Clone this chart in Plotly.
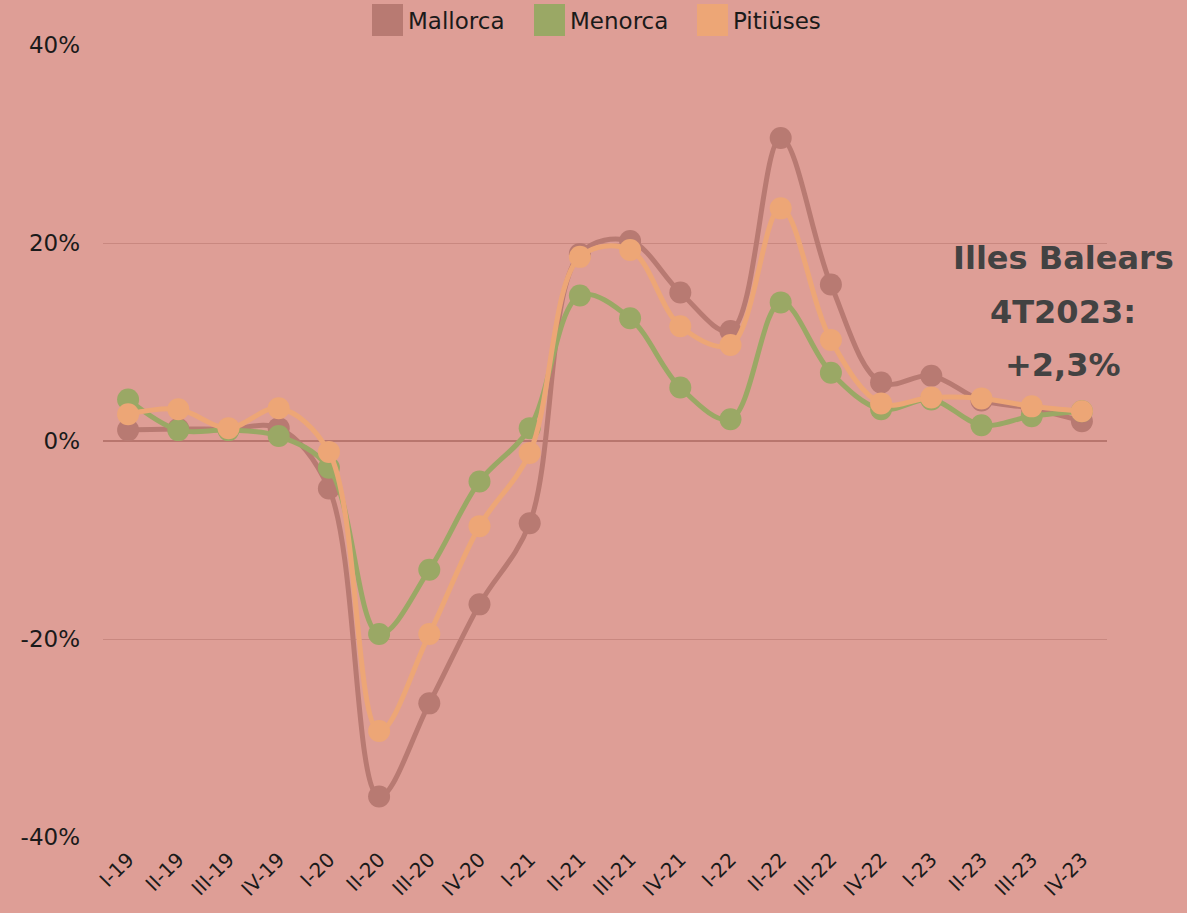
import plotly.graph_objects as go

quarters = ["I-19", "II-19", "III-19", "IV-19", "I-20", "II-20", "III-20", "IV-20",
            "I-21", "II-21", "III-21", "IV-21", "I-22", "II-22", "III-22", "IV-22",
            "I-23", "II-23", "III-23", "IV-23"]

mallorca = [1.1, 1.2, 1.2, 1.3, -4.8, -35.9, -26.5, -16.5, -8.3, 18.9, 20.2, 15.0,
            11.1, 30.6, 15.8, 5.9, 6.6, 4.1, 3.3, 2.0]
menorca = [4.2, 1.1, 1.1, 0.5, -2.7, -19.5, -13.0, -4.1, 1.3, 14.7, 12.4, 5.4,
           2.2, 14.0, 6.9, 3.2, 4.2, 1.6, 2.5, 3.0]
pitiuses = [2.7, 3.2, 1.3, 3.3, -1.1, -29.3, -19.5, -8.6, -1.2, 18.6, 19.3, 11.6,
            9.7, 23.5, 10.2, 3.8, 4.4, 4.3, 3.5, 3.0]

series_names = ["Mallorca", "Menorca", "Pitiüses"]
series_values = [mallorca, menorca, pitiuses]
series_colors = ["#B87A72", "#9AA865", "#EDA676"]

y_tickvals = [-40, -20, 0, 20, 40]
y_ticktext = ["-40%", "-20%", "0%", "20%", "40%"]

annotation_lines = ["Illes Balears", "4T2023:", "+2,3%"]

BG = "#DE9E96"
FONT = "DejaVu Sans"

# plot-area pixel geometry (for placing paper-referenced decorations)
PL, PR, PT, PB = 103, 1107, 45, 837
def px_x(px):
    return (px - PL) / (PR - PL)
def px_y(py):
    return (PB - py) / (PB - PT)

fig = go.Figure()
for name, vals, col in zip(series_names, series_values, series_colors):
    fig.add_trace(go.Scatter(
        x=quarters, y=vals, name=name, mode="lines+markers",
        line=dict(color=col, width=5, shape="spline", smoothing=1.0),
        marker=dict(color=col, size=22),
        showlegend=False,
    ))

# custom legend (large squares)
leg_x0 = [372, 534, 697]
for name, col, px in zip(series_names, series_colors, leg_x0):
    fig.add_shape(type="rect", xref="paper", yref="paper",
                  x0=px_x(px), x1=px_x(px + 31), y0=px_y(36), y1=px_y(4),
                  fillcolor=col, line=dict(width=0), layer="above")
    fig.add_annotation(xref="paper", yref="paper", x=px_x(px + 34),
                       y=px_y(21), text=name, showarrow=False,
                       xanchor="left", yanchor="middle",
                       font=dict(family=FONT, size=23, color="#1a1a1a"))

for txt, cy in zip(annotation_lines, [258, 312, 365]):
    fig.add_annotation(xref="paper", yref="paper", x=px_x(1063), y=px_y(cy),
                       text=txt, showarrow=False, align="center",
                       xanchor="center", yanchor="middle",
                       font=dict(family=FONT, size=32, color="#424242", weight="bold"))

fig.update_layout(
    width=1187, height=913,
    paper_bgcolor=BG, plot_bgcolor=BG,
    margin=dict(l=PL, r=1187 - PR, t=PT, b=913 - PB),
    font=dict(family=FONT, color="#1a1a1a"),
    xaxis=dict(type="category", range=[-0.5, 19.5], showgrid=False, showline=False,
               tickangle=-45, tickfont=dict(size=20, family=FONT, color="#1a1a1a"),
               ticks="", ticklabelstandoff=6, fixedrange=True),
    yaxis=dict(range=[-40, 40], tickvals=y_tickvals, ticktext=y_ticktext,
               showgrid=True, gridcolor="#C98880", gridwidth=1,
               zeroline=True, zerolinecolor="#B8766E", zerolinewidth=1.5,
               showline=False, ticks="", ticklabelstandoff=22,
               tickfont=dict(size=23, family=FONT, color="#1a1a1a")),
)

fig.write_html("out.html", config={"displayModeBar": False},
               post_script="document.body.style.margin='0';")
